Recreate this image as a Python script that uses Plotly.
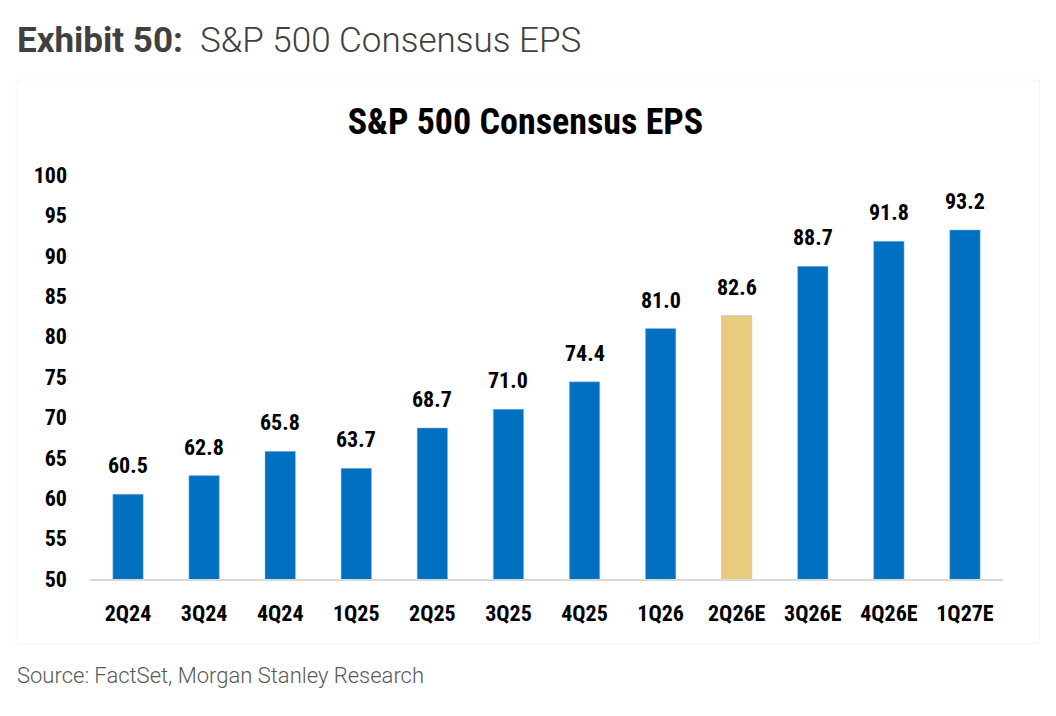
import plotly.graph_objects as go

# S&P 500 consensus EPS by quarter
quarters = ['2Q24', '3Q24', '4Q24', '1Q25', '2Q25', '3Q25', '4Q25', '1Q26',
            '2Q26E', '3Q26E', '4Q26E', '1Q27E']
eps = [60.5, 62.8, 65.8, 63.7, 68.7, 71.0, 74.4, 81.0, 82.6, 88.7, 91.8, 93.2]
highlight = '2Q26E'
y_ticks = [50, 55, 60, 65, 70, 75, 80, 85, 90, 95, 100]

BLUE = '#0070C0'
GOLD = '#E8CB7E'
FONT_BOLD = 'Roboto Condensed, Liberation Sans Narrow, Roboto, sans-serif'

bar_colors = [GOLD if q == highlight else BLUE for q in quarters]

fig = go.Figure()
fig.add_trace(go.Bar(
    x=quarters,
    y=eps,
    base=0,
    marker=dict(color=bar_colors, line=dict(color='#9dc3e6', width=0.5)),
    cliponaxis=False,
    showlegend=False,
))

# value labels a bit higher above the bars than plotly's default outside text
for q, v in zip(quarters, eps):
    fig.add_annotation(x=q, y=v, text=f'<b>{v:.1f}</b>', showarrow=False,
                       yanchor='bottom', yshift=14,
                       font=dict(family=FONT_BOLD, size=22, color='#000000'))

fig.update_layout(
    width=1056, height=716,
    margin=dict(l=82, r=61, t=167, b=145),
    paper_bgcolor='white',
    plot_bgcolor='white',
    bargap=0.6,
    title=dict(text='<b>S&P 500 Consensus EPS</b>', x=0.49, xanchor='center',
               y=0.842, yanchor='middle',
               font=dict(family=FONT_BOLD, size=36, color='#000000')),
    font=dict(family=FONT_BOLD, color='#000000'),
)

fig.update_yaxes(range=[50, 100], tickvals=y_ticks, showgrid=False, zeroline=False,
                 showline=False, ticks='', ticklabelstandoff=22,
                 tickfont=dict(family=FONT_BOLD, size=22, color='#000000', weight='bold'))
fig.update_xaxes(showgrid=False, showline=True, linecolor='#d9d9d9', linewidth=2,
                 ticks='', ticklabelstandoff=14,
                 tickfont=dict(family=FONT_BOLD, size=22, color='#000000', weight='bold'))

# header and footer
fig.add_annotation(
    text='<b>Exhibit 50:</b>  S&P 500 Consensus EPS',
    xref='paper', yref='paper', x=-0.082, y=1.334, xanchor='left', yanchor='middle',
    showarrow=False,
    font=dict(family='Roboto, sans-serif', size=35, color='#404040', weight=300),
)
fig.add_annotation(
    text='Source: FactSet, Morgan Stanley Research',
    xref='paper', yref='paper', x=-0.082, y=-0.238, xanchor='left', yanchor='middle',
    showarrow=False,
    font=dict(family='Roboto, sans-serif', size=22, color='#595959', weight=300),
)
# faint frame around chart area
fig.add_shape(type='rect', xref='paper', yref='paper', x0=-0.081, x1=1.04, y0=-0.16, y1=1.235,
              line=dict(color='#f5f5f5', width=1), layer='below')

fig.write_html('out.html')
